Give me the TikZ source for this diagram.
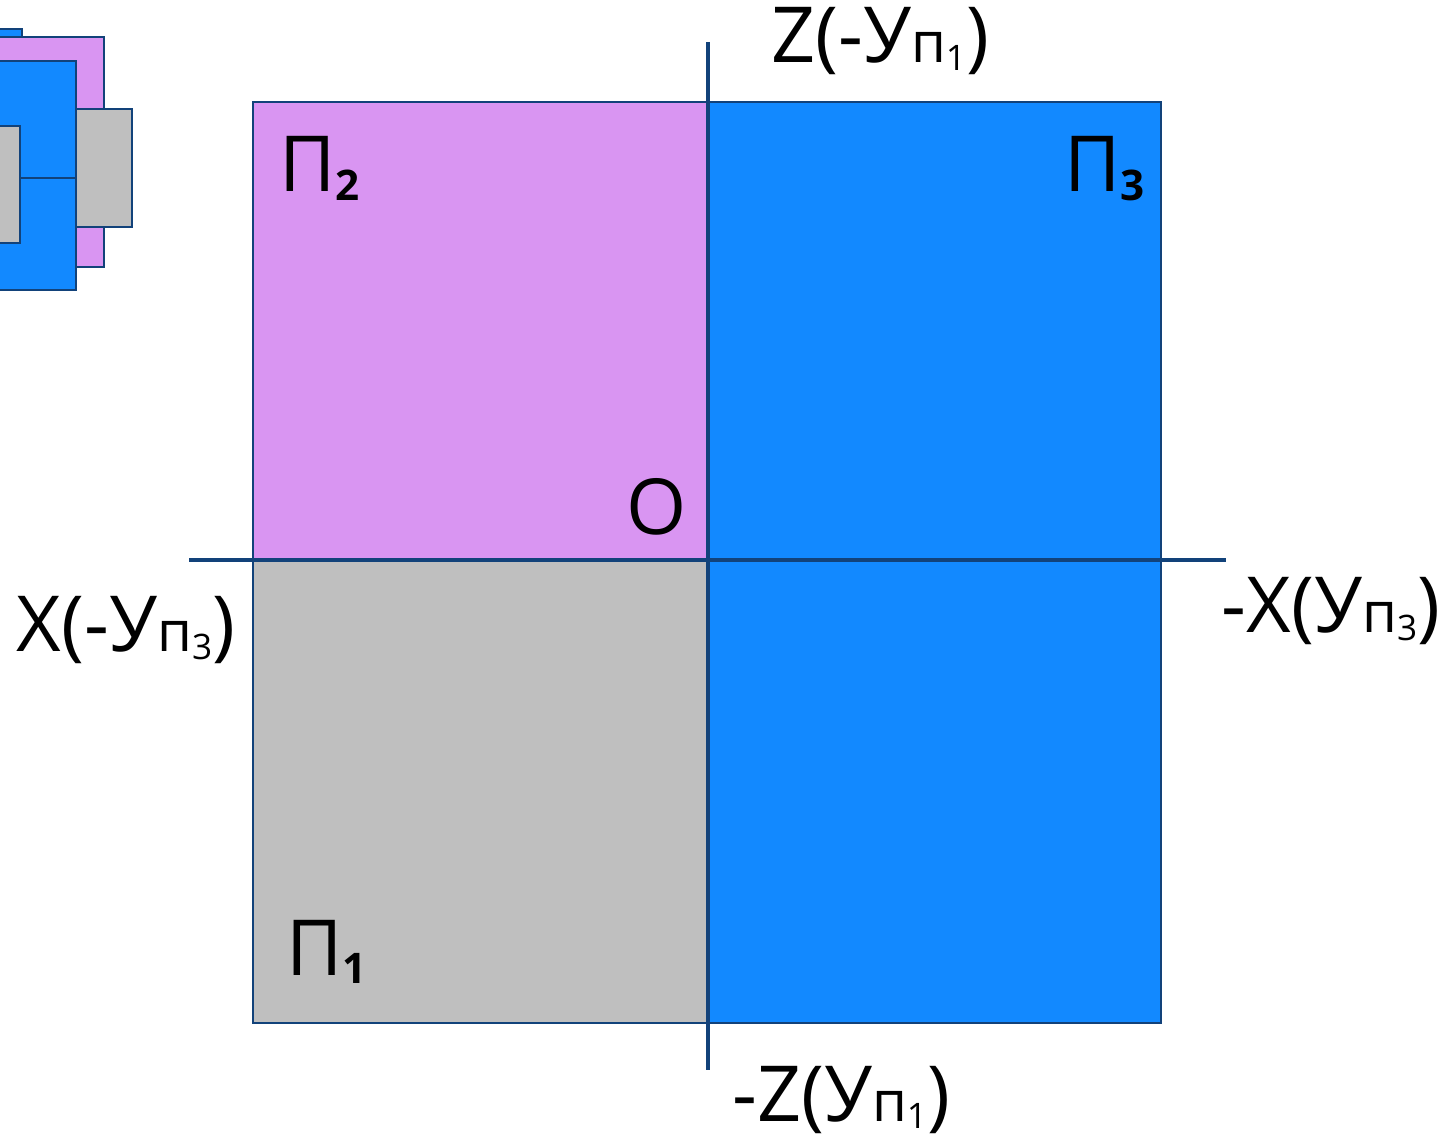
\documentclass[tikz,border=0pt]{standalone}
\usepackage{fontspec}
\setmainfont{Open Sans}
\usetikzlibrary{positioning}
\definecolor{axisblue}{RGB}{18,66,122}
\definecolor{planepink}{RGB}{217,149,242}
\definecolor{planeblue}{RGB}{18,137,255}
\definecolor{planegray}{RGB}{191,191,191}
\newcommand{\Upl}[1]{{\fontsize{32}{34}\selectfont п}\raisebox{-0.1em}{\fontsize{20}{22}\selectfont #1}}
\newcommand{\Pl}[1]{П\raisebox{-0.11em}{\fontsize{24}{26}\selectfont\bfseries #1}}

\begin{document}
\begin{tikzpicture}[x=0.02cm, y=-0.02cm]
\tikzset{
  plane/.style={draw=axisblue, line width=1.1pt},
  axis/.style={draw=axisblue, line width=2.4pt},
  lbl/.style={font=\fontsize{44}{50}\selectfont, inner sep=0pt, anchor=base}
}
\useasboundingbox (0,0) rectangle (1454,1141);
\clip (0,0) rectangle (1454,1141);

% small copy in the corner
\filldraw[plane, fill=planeblue] (-60,29) rectangle (22,100);
\filldraw[plane, fill=planepink] (-10,37) rectangle (104,267);
\filldraw[plane, fill=planeblue] (-60,61) rectangle (76,290);
\draw[plane] (20,178) -- (76,178);
\filldraw[plane, fill=planegray] (-60,126) rectangle (20,243);
\filldraw[plane, fill=planegray] (76,109) rectangle (132,227);

% planes
\filldraw[plane, fill=planepink] (253,102) rectangle (708,560);
\filldraw[plane, fill=planegray] (253,560) rectangle (708,1023);
\filldraw[plane, fill=planeblue] (708,102) rectangle (1161,1023);

% axes
\coordinate (xl) at (189,560);
\coordinate (xr) at (1226,560);
\coordinate (zt) at (708,42);
\coordinate (zb) at (708,1070);
\draw[axis] (xl) -- (xr);
\draw[axis] (zt) -- (zb);

% labels
\node[lbl] (ztop) at (880,63) {Z(-У\Upl{1})};
\node[lbl] (zbot) at (841,1121) {-Z(У\Upl{1})};
\node[lbl] (xleft) at (126,652) {X(-У\Upl{3})};
\node[lbl] (xright) at (1331,633) {-X(У\Upl{3})};
\node[lbl] (orig) at (657,535) {O};
\node[lbl, anchor=base west] (p2) at (279,192) {\Pl{2}};
\node[lbl, anchor=base east] (p3) at (1145,192) {\Pl{3}};
\node[lbl, anchor=base west] (p1) at (286,975) {\Pl{1}};

\end{tikzpicture}
\end{document}
